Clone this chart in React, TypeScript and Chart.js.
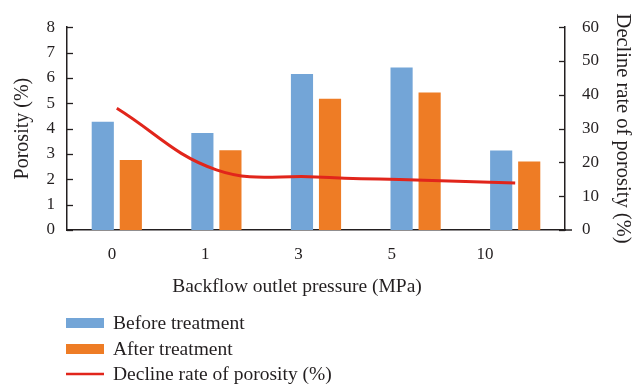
import { useEffect, useRef } from 'react';
import { Chart, registerables } from 'chart.js';

Chart.register(...registerables);

// Backflow outlet pressure categories (MPa)
const pressures = ['0', '1', '3', '5', '10'];
// Porosity (%) of the cores
const beforeTreatment = [4.27, 3.83, 6.15, 6.41, 3.14];
const afterTreatment = [2.76, 3.15, 5.18, 5.42, 2.7];
// Decline rate of porosity (%)
const declineRate = [36.0, 17.8, 15.7, 14.8, 13.9];

const xTitle = 'Backflow outlet pressure (MPa)';

const SERIF = "'Liberation Serif', 'Times New Roman', serif";
const INK = '#231f20';
const BLUE = '#73a5d7';
const ORANGE = '#ee7c25';
const RED = '#e1251b';

// Short tick marks pointing into the plot area on both value axes,
// plus the small run of the base line past the right axis
const inwardTicks = {
  id: 'inwardTicks',
  afterDraw(chart: any) {
    const { ctx, chartArea } = chart;
    ctx.save();
    ctx.strokeStyle = INK;
    ctx.lineWidth = 1.3;
    for (const [id, dir] of [['y', 1], ['y1', -1]] as [string, number][]) {
      const s = chart.scales[id];
      const x0 = dir > 0 ? s.right : s.left;
      for (const t of s.ticks) {
        const py = Math.round(s.getPixelForValue(t.value)) + 0.5;
        ctx.beginPath();
        ctx.moveTo(x0, py);
        ctx.lineTo(x0 + dir * 6, py);
        ctx.stroke();
      }
    }
    ctx.lineWidth = 1.5;
    ctx.beginPath();
    ctx.moveTo(chartArea.right, chartArea.bottom);
    ctx.lineTo(chartArea.right + 7, chartArea.bottom);
    ctx.stroke();
    ctx.restore();
  },
};

// Axis title under the pressure labels and the vertical legend beneath it
const stackedLegend = {
  id: 'stackedLegend',
  afterDraw(chart: any) {
    const { ctx } = chart;
    ctx.save();
    ctx.font = `19.5px ${SERIF}`;
    ctx.textBaseline = 'middle';
    ctx.fillStyle = INK;
    ctx.textAlign = 'center';
    ctx.fillText(xTitle, 297, 287);

    const rows = [323, 349, 374];
    ctx.textAlign = 'left';
    chart.data.datasets.forEach((ds: any, i: number) => {
      const y = rows[i];
      if (ds.type === 'line') {
        ctx.strokeStyle = ds.borderColor;
        ctx.lineWidth = 2.5;
        ctx.beginPath();
        ctx.moveTo(66, y);
        ctx.lineTo(104, y);
        ctx.stroke();
      } else {
        ctx.fillStyle = ds.backgroundColor;
        ctx.fillRect(66, y - 5, 38, 10);
      }
      ctx.fillStyle = INK;
      ctx.fillText(ds.label, 113, y + 1);
    });
    ctx.restore();
  },
};

export default function App() {
  const canvasRef = useRef<HTMLCanvasElement | null>(null);

  useEffect(() => {
    if (!canvasRef.current) return;
    const chart = new Chart(canvasRef.current, {
      type: 'bar',
      data: {
        labels: pressures,
        datasets: [
          {
            label: 'Before treatment',
            data: beforeTreatment,
            backgroundColor: BLUE,
            yAxisID: 'y',
            xAxisID: 'x',
            order: 1,
            categoryPercentage: 0.563,
            barPercentage: 0.79,
          },
          {
            label: 'After treatment',
            data: afterTreatment,
            backgroundColor: ORANGE,
            yAxisID: 'y',
            xAxisID: 'x',
            order: 1,
            categoryPercentage: 0.563,
            barPercentage: 0.79,
          },
          {
            type: 'line',
            label: 'Decline rate of porosity (%)',
            data: declineRate,
            borderColor: RED,
            backgroundColor: RED,
            borderWidth: 3,
            pointRadius: 0,
            tension: 0.4,
            yAxisID: 'y1',
            xAxisID: 'x',
            order: 0,
          } as any,
        ],
      },
      options: {
        animation: false,
        responsive: true,
        maintainAspectRatio: false,
        layout: { padding: { top: 22, bottom: 85, left: 0, right: 0 } },
        plugins: {
          legend: { display: false },
          tooltip: { enabled: false },
        },
        scales: {
          x: {
            type: 'category',
            display: false,
            offset: true,
          },
          // Axis that carries the pressure labels and the bottom axis line
          xLabels: {
            type: 'linear',
            position: 'bottom',
            offset: false,
            bounds: 'data',
            min: -0.4826,
            max: 4.858,
            afterBuildTicks: (s: any) => {
              s.ticks = pressures.map((_, i) => ({ value: i }));
            },
            afterFit: (s: any) => {
              s.height = 70;
            },
            ticks: {
              callback: (v: any) => pressures[v] ?? '',
              font: { family: SERIF, size: 17 },
              color: INK,
              padding: 14,
              maxRotation: 0,
              autoSkip: false,
            },
            grid: { display: false, drawTicks: false, offset: false },
            border: { display: true, color: INK, width: 1.5 },
            title: { display: false },
          } as any,
          y: {
            position: 'left',
            min: 0,
            max: 8,
            afterFit: (s: any) => {
              s.width = 67;
            },
            ticks: {
              stepSize: 1,
              font: { family: SERIF, size: 17 },
              color: INK,
              padding: 12,
            },
            grid: { display: false, drawTicks: false },
            border: { display: true, color: INK, width: 1.5 },
            title: {
              display: true,
              text: 'Porosity (%)',
              font: { family: SERIF, size: 20, lineHeight: 1.0 },
              color: INK,
              padding: { top: 13, bottom: 0 },
            },
          },
          y1: {
            position: 'right',
            min: 0,
            max: 60,
            afterFit: (s: any) => {
              s.width = 68;
            },
            ticks: {
              stepSize: 10,
              font: { family: SERIF, size: 17 },
              color: INK,
              padding: 17,
            },
            grid: { display: false, drawTicks: false },
            border: { display: true, color: INK, width: 1.5 },
            title: {
              display: true,
              text: 'Decline rate of porosity (%)',
              font: { family: SERIF, size: 20.5, lineHeight: 1.0 },
              color: INK,
              padding: { top: 0, bottom: 0 },
            },
          },
        },
      },
      plugins: [inwardTicks, stackedLegend],
    });
    return () => chart.destroy();
  }, []);

  return (
    <div style={{ position: 'fixed', left: 0, top: 0, width: 633, height: 385, background: '#fff' }}>
      <canvas ref={canvasRef} />
    </div>
  );
}
